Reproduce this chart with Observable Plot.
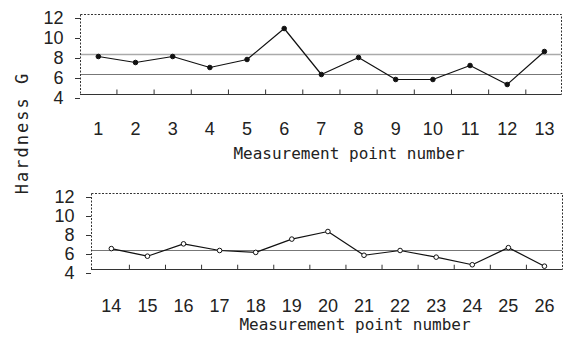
<!DOCTYPE html>
<html>
<head>
<meta charset="utf-8">
<script src="https://cdn.jsdelivr.net/npm/d3@7"></script>
<script src="https://cdn.jsdelivr.net/npm/@observablehq/plot@0.6"></script>
<style>
  html, body { margin: 0; padding: 0; background: #fff; }
  #wrap { position: relative; width: 563px; height: 340px; overflow: hidden; font-family: "Liberation Sans", sans-serif; }
  .panel { position: absolute; left: 0; }
  #ylab { position: absolute; left: 22px; top: 133px; transform: translate(-50%, -50%) rotate(-90deg);
          font-family: "DejaVu Sans Mono", monospace; font-size: 17px; letter-spacing: 2px; color: #222; white-space: nowrap; }
</style>
</head>
<body>
<div id="wrap">
  <div id="p1" class="panel" style="top:0"></div>
  <div id="p2" class="panel" style="top:170px"></div>
  <div id="ylab">Hardness G</div>
</div>
<script>
const pointsTop = [1,2,3,4,5,6,7,8,9,10,11,12,13];
const hardnessTop = [7.8,7.2,7.8,6.7,7.5,10.6,6.0,7.7,5.5,5.5,6.9,5.0,8.3];
const pointsBottom = [14,15,16,17,18,19,20,21,22,23,24,25,26];
const hardnessBottom = [6.2,5.4,6.7,6.0,5.8,7.2,8.0,5.5,6.0,5.3,4.5,6.3,4.35];
const yTicks = [4,6,8,10,12];
const refTop = [8,6];
const refBottom = [6];
const xTitle = "Measurement point number";

function panel({xs, ys, refs, domain, mTop, mLeft, mRight, mBottom, pad, titleDy, open}) {
  const halves = xs.slice(0, -1).map(d => d + 0.5);
  const rows = xs.map((x, i) => ({x, y: ys[i]}));
  return Plot.plot({
    width: 563, height: 170,
    marginTop: mTop, marginLeft: mLeft, marginRight: mRight, marginBottom: mBottom,
    style: {fontFamily: "Liberation Sans, sans-serif", fontSize: "18px", color: "#222", background: "#fff"},
    x: {domain, axis: null},
    y: {domain: [4, 12], axis: null},
    marks: [
      Plot.ruleY(refs, {stroke: d => d === 8 ? "#aaa" : "#777", strokeWidth: d => d === 8 ? 1.6 : 1.1}),
      Plot.frame({stroke: "#333", strokeDasharray: "2,1.5", strokeWidth: 1}),
      Plot.ruleY([4], {stroke: "#333", strokeWidth: 1.2}),
      Plot.ruleX(halves, {y1: 4, y2: 4.45, stroke: "#333", strokeWidth: 1}),
      Plot.axisY(yTicks, {anchor: "left", label: null, tickSize: 5, tickPadding: 12, dy: 4, fontSize: 18, fill: "#222", stroke: "#333"}),
      Plot.axisX(xs, {anchor: "bottom", label: null, tickSize: 0, tickPadding: pad, fontSize: 18, fill: "#222"}),
      Plot.text([xTitle], {frameAnchor: "bottom", dx: 28, dy: titleDy, fontFamily: "DejaVu Sans Mono, monospace", fontSize: 16, letterSpacing: 0.4, fill: "#222"}),
      Plot.line(rows, {x: "x", y: "y", stroke: "#111", strokeWidth: 1.2}),
      Plot.dot(rows, {x: "x", y: "y", r: 2.3, stroke: "#111", fill: open ? "#fff" : "#111", strokeWidth: 1})
    ]
  });
}

document.getElementById("p1").append(panel({
  xs: pointsTop, ys: hardnessTop, refs: refTop, domain: [0.52, 13.46],
  mTop: 14, mLeft: 80, mRight: 2, mBottom: 76, pad: 28, titleDy: 64, open: false
}));
document.getElementById("p2").append(panel({
  xs: pointsBottom, ys: hardnessBottom, refs: refBottom, domain: [13.45, 26.5],
  mTop: 23, mLeft: 91, mRight: 1, mBottom: 71, pad: 30, titleDy: 60, open: true
}));
</script>
</body>
</html>
